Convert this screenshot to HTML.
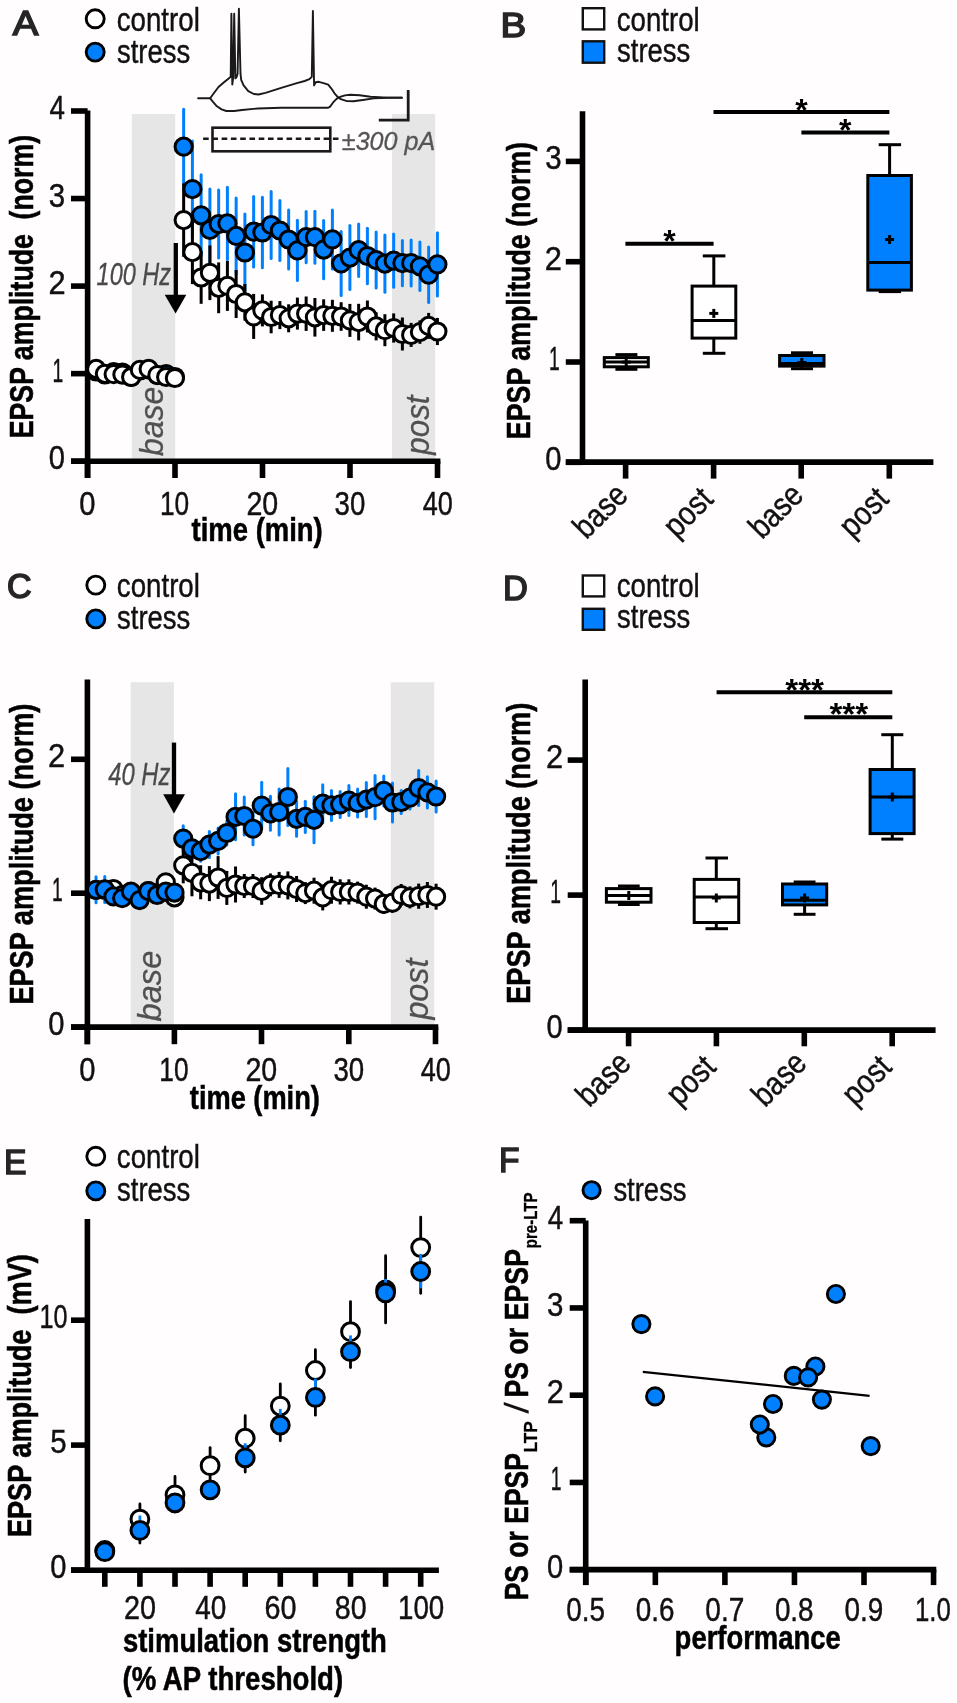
<!DOCTYPE html>
<html><head><meta charset="utf-8"><title>Figure</title>
<style>
html,body{margin:0;padding:0;background:#fffdfd;}
svg{display:block;font-family:"Liberation Sans",sans-serif;will-change:transform;}
</style></head>
<body>
<svg width="957" height="1703" viewBox="0 0 957 1703">
<text transform="translate(12.70,35.10) scale(1.0894,1)" font-size="35.2" fill="#262626" stroke="#262626" stroke-width="1.6" stroke-linejoin="miter">A</text>
<text transform="translate(500.62,37.30) scale(1.0939,1)" font-size="35.2" fill="#262626" stroke="#262626" stroke-width="1.6" stroke-linejoin="miter">B</text>
<text transform="translate(6.90,597.95) scale(0.9664,1)" font-size="35.2" fill="#262626" stroke="#262626" stroke-width="1.6" stroke-linejoin="miter">C</text>
<text transform="translate(502.94,600.10) scale(0.9788,1)" font-size="35.2" fill="#262626" stroke="#262626" stroke-width="1.6" stroke-linejoin="miter">D</text>
<text transform="translate(4.10,1174.10) scale(0.9591,1)" font-size="35.2" fill="#262626" stroke="#262626" stroke-width="1.6" stroke-linejoin="miter">E</text>
<text transform="translate(499.12,1172.10) scale(0.9508,1)" font-size="35.2" fill="#262626" stroke="#262626" stroke-width="1.6" stroke-linejoin="miter">F</text>
<circle cx="95.20" cy="18.80" r="9.0" fill="#fff" stroke="#000" stroke-width="2.9"/>
<circle cx="95.20" cy="52.10" r="9.0" fill="#0080ff" stroke="#000" stroke-width="2.9"/>
<text transform="translate(116.69,30.60) scale(0.8395,1)" font-size="33" font-weight="normal" font-style="normal" fill="#111" stroke="#111" stroke-width="0.45" xml:space="preserve">control</text>
<text transform="translate(116.98,63.00) scale(0.8322,1)" font-size="33" font-weight="normal" font-style="normal" fill="#111" stroke="#111" stroke-width="0.45" xml:space="preserve">stress</text>
<rect x="582.80" y="8.20" width="21.40" height="21.20" fill="#fff" stroke="#111" stroke-width="2.4"/>
<rect x="582.80" y="41.30" width="21.40" height="21.40" fill="#0080ff" stroke="#111" stroke-width="2.4"/>
<text transform="translate(616.79,30.60) scale(0.8374,1)" font-size="33" font-weight="normal" font-style="normal" fill="#111" stroke="#111" stroke-width="0.45" xml:space="preserve">control</text>
<text transform="translate(617.08,62.20) scale(0.8322,1)" font-size="33" font-weight="normal" font-style="normal" fill="#111" stroke="#111" stroke-width="0.45" xml:space="preserve">stress</text>
<circle cx="95.80" cy="585.10" r="9.0" fill="#fff" stroke="#000" stroke-width="2.9"/>
<circle cx="95.80" cy="618.90" r="9.0" fill="#0080ff" stroke="#000" stroke-width="2.9"/>
<text transform="translate(116.79,597.10) scale(0.8395,1)" font-size="33" font-weight="normal" font-style="normal" fill="#111" stroke="#111" stroke-width="0.45" xml:space="preserve">control</text>
<text transform="translate(117.08,629.00) scale(0.8322,1)" font-size="33" font-weight="normal" font-style="normal" fill="#111" stroke="#111" stroke-width="0.45" xml:space="preserve">stress</text>
<rect x="582.80" y="575.50" width="21.40" height="20.90" fill="#fff" stroke="#111" stroke-width="2.4"/>
<rect x="582.80" y="608.80" width="21.40" height="21.00" fill="#0080ff" stroke="#111" stroke-width="2.4"/>
<text transform="translate(616.79,597.10) scale(0.8374,1)" font-size="33" font-weight="normal" font-style="normal" fill="#111" stroke="#111" stroke-width="0.45" xml:space="preserve">control</text>
<text transform="translate(617.08,628.40) scale(0.8322,1)" font-size="33" font-weight="normal" font-style="normal" fill="#111" stroke="#111" stroke-width="0.45" xml:space="preserve">stress</text>
<circle cx="95.80" cy="1156.30" r="9.0" fill="#fff" stroke="#000" stroke-width="2.9"/>
<circle cx="95.80" cy="1190.90" r="9.0" fill="#0080ff" stroke="#000" stroke-width="2.9"/>
<text transform="translate(116.79,1168.10) scale(0.8395,1)" font-size="33" font-weight="normal" font-style="normal" fill="#111" stroke="#111" stroke-width="0.45" xml:space="preserve">control</text>
<text transform="translate(117.08,1201.00) scale(0.8322,1)" font-size="33" font-weight="normal" font-style="normal" fill="#111" stroke="#111" stroke-width="0.45" xml:space="preserve">stress</text>
<circle cx="591.60" cy="1190.20" r="8.6" fill="#0080ff" stroke="#000" stroke-width="2.9"/>
<text transform="translate(613.38,1201.00) scale(0.8322,1)" font-size="33" font-weight="normal" font-style="normal" fill="#111" stroke="#111" stroke-width="0.45" xml:space="preserve">stress</text>
<rect x="131.80" y="114.00" width="43.40" height="347.20" fill="#e6e6e6"/>
<rect x="392.00" y="114.00" width="43.20" height="347.20" fill="#e6e6e6"/>
<text transform="translate(163.20,455.98) rotate(-90) scale(0.9415,1)" font-size="34" font-weight="normal" font-style="italic" fill="#505050" stroke="#505050" stroke-width="0.3" xml:space="preserve">base</text>
<text transform="translate(428.80,454.72) rotate(-90) scale(0.9231,1)" font-size="34" font-weight="normal" font-style="italic" fill="#505050" stroke="#505050" stroke-width="0.3" xml:space="preserve">post</text>
<line x1="87.60" y1="110.60" x2="87.60" y2="478.00" stroke="#000" stroke-width="5.6" stroke-linecap="butt" />
<line x1="71.00" y1="461.20" x2="440.40" y2="461.20" stroke="#000" stroke-width="5.6" stroke-linecap="butt" />
<line x1="71.00" y1="461.20" x2="87.60" y2="461.20" stroke="#000" stroke-width="5.6" stroke-linecap="butt" />
<text transform="translate(48.83,469.20) scale(0.8838,1)" font-size="33" font-weight="normal" font-style="normal" fill="#111" stroke="#111" stroke-width="0.45" xml:space="preserve">0</text>
<line x1="71.00" y1="373.65" x2="87.60" y2="373.65" stroke="#000" stroke-width="5.6" stroke-linecap="butt" />
<text transform="translate(52.55,381.65) scale(0.5852,1)" font-size="33" font-weight="normal" font-style="normal" fill="#111" stroke="#111" stroke-width="0.45" xml:space="preserve">1</text>
<line x1="71.00" y1="286.10" x2="87.60" y2="286.10" stroke="#000" stroke-width="5.6" stroke-linecap="butt" />
<text transform="translate(48.46,294.10) scale(0.9324,1)" font-size="33" font-weight="normal" font-style="normal" fill="#111" stroke="#111" stroke-width="0.45" xml:space="preserve">2</text>
<line x1="71.00" y1="198.55" x2="87.60" y2="198.55" stroke="#000" stroke-width="5.6" stroke-linecap="butt" />
<text transform="translate(48.82,206.55) scale(0.8931,1)" font-size="33" font-weight="normal" font-style="normal" fill="#111" stroke="#111" stroke-width="0.45" xml:space="preserve">3</text>
<line x1="71.00" y1="111.00" x2="87.60" y2="111.00" stroke="#000" stroke-width="5.6" stroke-linecap="butt" />
<text transform="translate(49.45,119.00) scale(0.8401,1)" font-size="33" font-weight="normal" font-style="normal" fill="#111" stroke="#111" stroke-width="0.45" xml:space="preserve">4</text>
<line x1="87.50" y1="461.20" x2="87.50" y2="478.00" stroke="#000" stroke-width="5.6" stroke-linecap="butt" />
<text transform="translate(79.33,515.30) scale(0.8838,1)" font-size="33" font-weight="normal" font-style="normal" fill="#111" stroke="#111" stroke-width="0.45" xml:space="preserve">0</text>
<line x1="175.00" y1="461.20" x2="175.00" y2="478.00" stroke="#000" stroke-width="5.6" stroke-linecap="butt" />
<text transform="translate(159.88,515.30) scale(0.7970,1)" font-size="33" font-weight="normal" font-style="normal" fill="#111" stroke="#111" stroke-width="0.45" xml:space="preserve">10</text>
<line x1="262.50" y1="461.20" x2="262.50" y2="478.00" stroke="#000" stroke-width="5.6" stroke-linecap="butt" />
<text transform="translate(246.42,515.30) scale(0.8662,1)" font-size="33" font-weight="normal" font-style="normal" fill="#111" stroke="#111" stroke-width="0.45" xml:space="preserve">20</text>
<line x1="350.00" y1="461.20" x2="350.00" y2="478.00" stroke="#000" stroke-width="5.6" stroke-linecap="butt" />
<text transform="translate(334.59,515.30) scale(0.8374,1)" font-size="33" font-weight="normal" font-style="normal" fill="#111" stroke="#111" stroke-width="0.45" xml:space="preserve">30</text>
<line x1="437.50" y1="461.20" x2="437.50" y2="478.00" stroke="#000" stroke-width="5.6" stroke-linecap="butt" />
<text transform="translate(422.66,515.30) scale(0.8215,1)" font-size="33" font-weight="normal" font-style="normal" fill="#111" stroke="#111" stroke-width="0.45" xml:space="preserve">40</text>
<text transform="translate(191.53,541.30) scale(0.8203,1)" font-size="33.5" font-weight="bold" font-style="normal" fill="#000" stroke="#000" stroke-width="0.55" xml:space="preserve">time (min)</text>
<text transform="translate(32.80,438.23) rotate(-90) scale(0.7966,1)" font-size="33.5" font-weight="bold" font-style="normal" fill="#000" stroke="#000" stroke-width="0.55" xml:space="preserve">EPSP amplitude  (norm)</text>
<text transform="translate(96.61,285.00) scale(0.7710,1)" font-size="30.5" font-weight="normal" font-style="italic" fill="#4a4a4a" stroke="#4a4a4a" stroke-width="0.3" xml:space="preserve">100 Hz</text>
<line x1="175.80" y1="243.00" x2="175.80" y2="297.00" stroke="#000" stroke-width="4.3" stroke-linecap="butt" />
<polygon points="164.7,294.8 186.3,294.8 175.6,313.6" fill="#000"/>
<line x1="96.15" y1="366.50" x2="96.15" y2="376.50" stroke="#0080ff" stroke-width="3.0" stroke-linecap="round" />
<line x1="104.90" y1="369.50" x2="104.90" y2="379.50" stroke="#0080ff" stroke-width="3.0" stroke-linecap="round" />
<line x1="113.65" y1="367.00" x2="113.65" y2="377.00" stroke="#0080ff" stroke-width="3.0" stroke-linecap="round" />
<line x1="122.40" y1="367.50" x2="122.40" y2="377.50" stroke="#0080ff" stroke-width="3.0" stroke-linecap="round" />
<line x1="131.15" y1="372.00" x2="131.15" y2="382.00" stroke="#0080ff" stroke-width="3.0" stroke-linecap="round" />
<line x1="139.90" y1="365.50" x2="139.90" y2="375.50" stroke="#0080ff" stroke-width="3.0" stroke-linecap="round" />
<line x1="148.65" y1="364.50" x2="148.65" y2="374.50" stroke="#0080ff" stroke-width="3.0" stroke-linecap="round" />
<line x1="157.40" y1="370.00" x2="157.40" y2="380.00" stroke="#0080ff" stroke-width="3.0" stroke-linecap="round" />
<line x1="166.15" y1="369.00" x2="166.15" y2="379.00" stroke="#0080ff" stroke-width="3.0" stroke-linecap="round" />
<line x1="174.90" y1="372.00" x2="174.90" y2="382.00" stroke="#0080ff" stroke-width="3.0" stroke-linecap="round" />
<line x1="183.65" y1="109.20" x2="183.65" y2="184.20" stroke="#0080ff" stroke-width="3.0" stroke-linecap="round" />
<line x1="192.40" y1="141.10" x2="192.40" y2="237.10" stroke="#0080ff" stroke-width="3.0" stroke-linecap="round" />
<line x1="201.15" y1="174.80" x2="201.15" y2="255.80" stroke="#0080ff" stroke-width="3.0" stroke-linecap="round" />
<line x1="209.90" y1="188.90" x2="209.90" y2="270.90" stroke="#0080ff" stroke-width="3.0" stroke-linecap="round" />
<line x1="218.65" y1="190.10" x2="218.65" y2="258.10" stroke="#0080ff" stroke-width="3.0" stroke-linecap="round" />
<line x1="227.40" y1="187.20" x2="227.40" y2="259.60" stroke="#0080ff" stroke-width="3.0" stroke-linecap="round" />
<line x1="236.15" y1="197.90" x2="236.15" y2="273.90" stroke="#0080ff" stroke-width="3.0" stroke-linecap="round" />
<line x1="244.90" y1="213.90" x2="244.90" y2="291.10" stroke="#0080ff" stroke-width="3.0" stroke-linecap="round" />
<line x1="253.65" y1="196.50" x2="253.65" y2="266.90" stroke="#0080ff" stroke-width="3.0" stroke-linecap="round" />
<line x1="262.40" y1="197.30" x2="262.40" y2="267.70" stroke="#0080ff" stroke-width="3.0" stroke-linecap="round" />
<line x1="271.15" y1="191.50" x2="271.15" y2="258.50" stroke="#0080ff" stroke-width="3.0" stroke-linecap="round" />
<line x1="279.90" y1="200.50" x2="279.90" y2="260.50" stroke="#0080ff" stroke-width="3.0" stroke-linecap="round" />
<line x1="288.65" y1="210.00" x2="288.65" y2="269.00" stroke="#0080ff" stroke-width="3.0" stroke-linecap="round" />
<line x1="297.40" y1="220.20" x2="297.40" y2="280.60" stroke="#0080ff" stroke-width="3.0" stroke-linecap="round" />
<line x1="306.15" y1="211.60" x2="306.15" y2="262.80" stroke="#0080ff" stroke-width="3.0" stroke-linecap="round" />
<line x1="314.90" y1="211.20" x2="314.90" y2="263.20" stroke="#0080ff" stroke-width="3.0" stroke-linecap="round" />
<line x1="323.65" y1="220.40" x2="323.65" y2="278.80" stroke="#0080ff" stroke-width="3.0" stroke-linecap="round" />
<line x1="332.40" y1="209.90" x2="332.40" y2="268.90" stroke="#0080ff" stroke-width="3.0" stroke-linecap="round" />
<line x1="341.15" y1="231.40" x2="341.15" y2="295.40" stroke="#0080ff" stroke-width="3.0" stroke-linecap="round" />
<line x1="349.90" y1="225.60" x2="349.90" y2="289.60" stroke="#0080ff" stroke-width="3.0" stroke-linecap="round" />
<line x1="358.65" y1="223.90" x2="358.65" y2="276.50" stroke="#0080ff" stroke-width="3.0" stroke-linecap="round" />
<line x1="367.40" y1="228.30" x2="367.40" y2="283.70" stroke="#0080ff" stroke-width="3.0" stroke-linecap="round" />
<line x1="376.15" y1="232.10" x2="376.15" y2="288.10" stroke="#0080ff" stroke-width="3.0" stroke-linecap="round" />
<line x1="384.90" y1="234.90" x2="384.90" y2="292.30" stroke="#0080ff" stroke-width="3.0" stroke-linecap="round" />
<line x1="393.65" y1="234.10" x2="393.65" y2="287.30" stroke="#0080ff" stroke-width="3.0" stroke-linecap="round" />
<line x1="402.40" y1="240.50" x2="402.40" y2="285.70" stroke="#0080ff" stroke-width="3.0" stroke-linecap="round" />
<line x1="411.15" y1="240.10" x2="411.15" y2="286.10" stroke="#0080ff" stroke-width="3.0" stroke-linecap="round" />
<line x1="419.90" y1="242.10" x2="419.90" y2="290.50" stroke="#0080ff" stroke-width="3.0" stroke-linecap="round" />
<line x1="428.65" y1="247.00" x2="428.65" y2="302.40" stroke="#0080ff" stroke-width="3.0" stroke-linecap="round" />
<line x1="437.40" y1="232.70" x2="437.40" y2="296.10" stroke="#0080ff" stroke-width="3.0" stroke-linecap="round" />
<circle cx="96.15" cy="371.50" r="8.6" fill="#0080ff" stroke="#000" stroke-width="3.0"/>
<circle cx="104.90" cy="374.50" r="8.6" fill="#0080ff" stroke="#000" stroke-width="3.0"/>
<circle cx="113.65" cy="372.00" r="8.6" fill="#0080ff" stroke="#000" stroke-width="3.0"/>
<circle cx="122.40" cy="372.50" r="8.6" fill="#0080ff" stroke="#000" stroke-width="3.0"/>
<circle cx="131.15" cy="377.00" r="8.6" fill="#0080ff" stroke="#000" stroke-width="3.0"/>
<circle cx="139.90" cy="370.50" r="8.6" fill="#0080ff" stroke="#000" stroke-width="3.0"/>
<circle cx="148.65" cy="369.50" r="8.6" fill="#0080ff" stroke="#000" stroke-width="3.0"/>
<circle cx="157.40" cy="375.00" r="8.6" fill="#0080ff" stroke="#000" stroke-width="3.0"/>
<circle cx="166.15" cy="374.00" r="8.6" fill="#0080ff" stroke="#000" stroke-width="3.0"/>
<circle cx="174.90" cy="377.00" r="8.6" fill="#0080ff" stroke="#000" stroke-width="3.0"/>
<circle cx="183.65" cy="146.70" r="8.6" fill="#0080ff" stroke="#000" stroke-width="3.0"/>
<circle cx="192.40" cy="189.10" r="8.6" fill="#0080ff" stroke="#000" stroke-width="3.0"/>
<circle cx="201.15" cy="215.30" r="8.6" fill="#0080ff" stroke="#000" stroke-width="3.0"/>
<circle cx="209.90" cy="229.90" r="8.6" fill="#0080ff" stroke="#000" stroke-width="3.0"/>
<circle cx="218.65" cy="224.10" r="8.6" fill="#0080ff" stroke="#000" stroke-width="3.0"/>
<circle cx="227.40" cy="223.40" r="8.6" fill="#0080ff" stroke="#000" stroke-width="3.0"/>
<circle cx="236.15" cy="235.90" r="8.6" fill="#0080ff" stroke="#000" stroke-width="3.0"/>
<circle cx="244.90" cy="252.50" r="8.6" fill="#0080ff" stroke="#000" stroke-width="3.0"/>
<circle cx="253.65" cy="231.70" r="8.6" fill="#0080ff" stroke="#000" stroke-width="3.0"/>
<circle cx="262.40" cy="232.50" r="8.6" fill="#0080ff" stroke="#000" stroke-width="3.0"/>
<circle cx="271.15" cy="225.00" r="8.6" fill="#0080ff" stroke="#000" stroke-width="3.0"/>
<circle cx="279.90" cy="230.50" r="8.6" fill="#0080ff" stroke="#000" stroke-width="3.0"/>
<circle cx="288.65" cy="239.50" r="8.6" fill="#0080ff" stroke="#000" stroke-width="3.0"/>
<circle cx="297.40" cy="250.40" r="8.6" fill="#0080ff" stroke="#000" stroke-width="3.0"/>
<circle cx="306.15" cy="237.20" r="8.6" fill="#0080ff" stroke="#000" stroke-width="3.0"/>
<circle cx="314.90" cy="237.20" r="8.6" fill="#0080ff" stroke="#000" stroke-width="3.0"/>
<circle cx="323.65" cy="249.60" r="8.6" fill="#0080ff" stroke="#000" stroke-width="3.0"/>
<circle cx="332.40" cy="239.40" r="8.6" fill="#0080ff" stroke="#000" stroke-width="3.0"/>
<circle cx="341.15" cy="263.40" r="8.6" fill="#0080ff" stroke="#000" stroke-width="3.0"/>
<circle cx="349.90" cy="257.60" r="8.6" fill="#0080ff" stroke="#000" stroke-width="3.0"/>
<circle cx="358.65" cy="250.20" r="8.6" fill="#0080ff" stroke="#000" stroke-width="3.0"/>
<circle cx="367.40" cy="256.00" r="8.6" fill="#0080ff" stroke="#000" stroke-width="3.0"/>
<circle cx="376.15" cy="260.10" r="8.6" fill="#0080ff" stroke="#000" stroke-width="3.0"/>
<circle cx="384.90" cy="263.60" r="8.6" fill="#0080ff" stroke="#000" stroke-width="3.0"/>
<circle cx="393.65" cy="260.70" r="8.6" fill="#0080ff" stroke="#000" stroke-width="3.0"/>
<circle cx="402.40" cy="263.10" r="8.6" fill="#0080ff" stroke="#000" stroke-width="3.0"/>
<circle cx="411.15" cy="263.10" r="8.6" fill="#0080ff" stroke="#000" stroke-width="3.0"/>
<circle cx="419.90" cy="266.30" r="8.6" fill="#0080ff" stroke="#000" stroke-width="3.0"/>
<circle cx="428.65" cy="274.70" r="8.6" fill="#0080ff" stroke="#000" stroke-width="3.0"/>
<circle cx="437.40" cy="264.40" r="8.6" fill="#0080ff" stroke="#000" stroke-width="3.0"/>
<line x1="96.15" y1="364.90" x2="96.15" y2="372.90" stroke="#000" stroke-width="3.0" stroke-linecap="butt" />
<line x1="104.90" y1="369.80" x2="104.90" y2="377.80" stroke="#000" stroke-width="3.0" stroke-linecap="butt" />
<line x1="113.65" y1="370.20" x2="113.65" y2="378.20" stroke="#000" stroke-width="3.0" stroke-linecap="butt" />
<line x1="122.40" y1="370.60" x2="122.40" y2="378.60" stroke="#000" stroke-width="3.0" stroke-linecap="butt" />
<line x1="131.15" y1="373.00" x2="131.15" y2="381.00" stroke="#000" stroke-width="3.0" stroke-linecap="butt" />
<line x1="139.90" y1="365.90" x2="139.90" y2="373.90" stroke="#000" stroke-width="3.0" stroke-linecap="butt" />
<line x1="148.65" y1="364.90" x2="148.65" y2="372.90" stroke="#000" stroke-width="3.0" stroke-linecap="butt" />
<line x1="157.40" y1="371.10" x2="157.40" y2="379.10" stroke="#000" stroke-width="3.0" stroke-linecap="butt" />
<line x1="166.15" y1="373.00" x2="166.15" y2="381.00" stroke="#000" stroke-width="3.0" stroke-linecap="butt" />
<line x1="174.90" y1="374.00" x2="174.90" y2="382.00" stroke="#000" stroke-width="3.0" stroke-linecap="butt" />
<line x1="183.65" y1="183.40" x2="183.65" y2="256.80" stroke="#000" stroke-width="3.0" stroke-linecap="butt" />
<line x1="192.40" y1="220.10" x2="192.40" y2="284.10" stroke="#000" stroke-width="3.0" stroke-linecap="butt" />
<line x1="201.15" y1="251.20" x2="201.15" y2="303.80" stroke="#000" stroke-width="3.0" stroke-linecap="butt" />
<line x1="209.90" y1="245.50" x2="209.90" y2="300.10" stroke="#000" stroke-width="3.0" stroke-linecap="butt" />
<line x1="218.65" y1="262.40" x2="218.65" y2="313.20" stroke="#000" stroke-width="3.0" stroke-linecap="butt" />
<line x1="227.40" y1="260.90" x2="227.40" y2="310.90" stroke="#000" stroke-width="3.0" stroke-linecap="butt" />
<line x1="236.15" y1="270.00" x2="236.15" y2="318.00" stroke="#000" stroke-width="3.0" stroke-linecap="butt" />
<line x1="244.90" y1="284.00" x2="244.90" y2="320.60" stroke="#000" stroke-width="3.0" stroke-linecap="butt" />
<line x1="253.65" y1="293.90" x2="253.65" y2="338.90" stroke="#000" stroke-width="3.0" stroke-linecap="butt" />
<line x1="262.40" y1="294.40" x2="262.40" y2="326.40" stroke="#000" stroke-width="3.0" stroke-linecap="butt" />
<line x1="271.15" y1="300.70" x2="271.15" y2="333.30" stroke="#000" stroke-width="3.0" stroke-linecap="butt" />
<line x1="279.90" y1="301.10" x2="279.90" y2="329.10" stroke="#000" stroke-width="3.0" stroke-linecap="butt" />
<line x1="288.65" y1="304.30" x2="288.65" y2="332.30" stroke="#000" stroke-width="3.0" stroke-linecap="butt" />
<line x1="297.40" y1="297.60" x2="297.40" y2="329.60" stroke="#000" stroke-width="3.0" stroke-linecap="butt" />
<line x1="306.15" y1="296.50" x2="306.15" y2="330.90" stroke="#000" stroke-width="3.0" stroke-linecap="butt" />
<line x1="314.90" y1="298.00" x2="314.90" y2="336.60" stroke="#000" stroke-width="3.0" stroke-linecap="butt" />
<line x1="323.65" y1="299.30" x2="323.65" y2="330.90" stroke="#000" stroke-width="3.0" stroke-linecap="butt" />
<line x1="332.40" y1="299.80" x2="332.40" y2="331.80" stroke="#000" stroke-width="3.0" stroke-linecap="butt" />
<line x1="341.15" y1="302.20" x2="341.15" y2="330.80" stroke="#000" stroke-width="3.0" stroke-linecap="butt" />
<line x1="349.90" y1="303.90" x2="349.90" y2="336.90" stroke="#000" stroke-width="3.0" stroke-linecap="butt" />
<line x1="358.65" y1="303.80" x2="358.65" y2="340.40" stroke="#000" stroke-width="3.0" stroke-linecap="butt" />
<line x1="367.40" y1="300.50" x2="367.40" y2="332.50" stroke="#000" stroke-width="3.0" stroke-linecap="butt" />
<line x1="376.15" y1="312.40" x2="376.15" y2="340.40" stroke="#000" stroke-width="3.0" stroke-linecap="butt" />
<line x1="384.90" y1="314.20" x2="384.90" y2="346.20" stroke="#000" stroke-width="3.0" stroke-linecap="butt" />
<line x1="393.65" y1="313.40" x2="393.65" y2="342.60" stroke="#000" stroke-width="3.0" stroke-linecap="butt" />
<line x1="402.40" y1="317.50" x2="402.40" y2="350.50" stroke="#000" stroke-width="3.0" stroke-linecap="butt" />
<line x1="411.15" y1="322.90" x2="411.15" y2="346.90" stroke="#000" stroke-width="3.0" stroke-linecap="butt" />
<line x1="419.90" y1="320.40" x2="419.90" y2="343.80" stroke="#000" stroke-width="3.0" stroke-linecap="butt" />
<line x1="428.65" y1="312.90" x2="428.65" y2="338.90" stroke="#000" stroke-width="3.0" stroke-linecap="butt" />
<line x1="437.40" y1="317.90" x2="437.40" y2="345.10" stroke="#000" stroke-width="3.0" stroke-linecap="butt" />
<circle cx="96.15" cy="368.90" r="8.6" fill="#fff" stroke="#000" stroke-width="3.0"/>
<circle cx="104.90" cy="373.80" r="8.6" fill="#fff" stroke="#000" stroke-width="3.0"/>
<circle cx="113.65" cy="374.20" r="8.6" fill="#fff" stroke="#000" stroke-width="3.0"/>
<circle cx="122.40" cy="374.60" r="8.6" fill="#fff" stroke="#000" stroke-width="3.0"/>
<circle cx="131.15" cy="377.00" r="8.6" fill="#fff" stroke="#000" stroke-width="3.0"/>
<circle cx="139.90" cy="369.90" r="8.6" fill="#fff" stroke="#000" stroke-width="3.0"/>
<circle cx="148.65" cy="368.90" r="8.6" fill="#fff" stroke="#000" stroke-width="3.0"/>
<circle cx="157.40" cy="375.10" r="8.6" fill="#fff" stroke="#000" stroke-width="3.0"/>
<circle cx="166.15" cy="377.00" r="8.6" fill="#fff" stroke="#000" stroke-width="3.0"/>
<circle cx="174.90" cy="378.00" r="8.6" fill="#fff" stroke="#000" stroke-width="3.0"/>
<circle cx="183.65" cy="220.10" r="8.6" fill="#fff" stroke="#000" stroke-width="3.0"/>
<circle cx="192.40" cy="252.10" r="8.6" fill="#fff" stroke="#000" stroke-width="3.0"/>
<circle cx="201.15" cy="277.50" r="8.6" fill="#fff" stroke="#000" stroke-width="3.0"/>
<circle cx="209.90" cy="272.80" r="8.6" fill="#fff" stroke="#000" stroke-width="3.0"/>
<circle cx="218.65" cy="287.80" r="8.6" fill="#fff" stroke="#000" stroke-width="3.0"/>
<circle cx="227.40" cy="285.90" r="8.6" fill="#fff" stroke="#000" stroke-width="3.0"/>
<circle cx="236.15" cy="294.00" r="8.6" fill="#fff" stroke="#000" stroke-width="3.0"/>
<circle cx="244.90" cy="302.30" r="8.6" fill="#fff" stroke="#000" stroke-width="3.0"/>
<circle cx="253.65" cy="316.40" r="8.6" fill="#fff" stroke="#000" stroke-width="3.0"/>
<circle cx="262.40" cy="310.40" r="8.6" fill="#fff" stroke="#000" stroke-width="3.0"/>
<circle cx="271.15" cy="317.00" r="8.6" fill="#fff" stroke="#000" stroke-width="3.0"/>
<circle cx="279.90" cy="315.10" r="8.6" fill="#fff" stroke="#000" stroke-width="3.0"/>
<circle cx="288.65" cy="318.30" r="8.6" fill="#fff" stroke="#000" stroke-width="3.0"/>
<circle cx="297.40" cy="313.60" r="8.6" fill="#fff" stroke="#000" stroke-width="3.0"/>
<circle cx="306.15" cy="313.70" r="8.6" fill="#fff" stroke="#000" stroke-width="3.0"/>
<circle cx="314.90" cy="317.30" r="8.6" fill="#fff" stroke="#000" stroke-width="3.0"/>
<circle cx="323.65" cy="315.10" r="8.6" fill="#fff" stroke="#000" stroke-width="3.0"/>
<circle cx="332.40" cy="315.80" r="8.6" fill="#fff" stroke="#000" stroke-width="3.0"/>
<circle cx="341.15" cy="316.50" r="8.6" fill="#fff" stroke="#000" stroke-width="3.0"/>
<circle cx="349.90" cy="320.40" r="8.6" fill="#fff" stroke="#000" stroke-width="3.0"/>
<circle cx="358.65" cy="322.10" r="8.6" fill="#fff" stroke="#000" stroke-width="3.0"/>
<circle cx="367.40" cy="316.50" r="8.6" fill="#fff" stroke="#000" stroke-width="3.0"/>
<circle cx="376.15" cy="326.40" r="8.6" fill="#fff" stroke="#000" stroke-width="3.0"/>
<circle cx="384.90" cy="330.20" r="8.6" fill="#fff" stroke="#000" stroke-width="3.0"/>
<circle cx="393.65" cy="328.00" r="8.6" fill="#fff" stroke="#000" stroke-width="3.0"/>
<circle cx="402.40" cy="334.00" r="8.6" fill="#fff" stroke="#000" stroke-width="3.0"/>
<circle cx="411.15" cy="334.90" r="8.6" fill="#fff" stroke="#000" stroke-width="3.0"/>
<circle cx="419.90" cy="332.10" r="8.6" fill="#fff" stroke="#000" stroke-width="3.0"/>
<circle cx="428.65" cy="325.90" r="8.6" fill="#fff" stroke="#000" stroke-width="3.0"/>
<circle cx="437.40" cy="331.50" r="8.6" fill="#fff" stroke="#000" stroke-width="3.0"/>
<path d="M198.1,98.3 L210.2,98.3 L213.8,93.3 L218.5,87.0 L224.0,82.3 L228.7,78.4 L230.7,76.8 L231.4,13.8 L232.3,84.6 L233.2,77.6 L234.2,13.8 L235.4,78.4 L236.7,76.8 L237.6,73.7 L238.9,8.6 L240.5,73.7 L241.2,79.9 L243.6,85.4 L248.3,91.2 L253.8,94.0 L258.5,94.5 L265.5,92.8 L281.2,87.8 L296.9,83.1 L304.7,81.0 L309.4,79.2 L311.8,76.8 L312.9,11.0 L314.1,85.4 L315.7,82.3 L318.8,81.8 L323.5,83.1 L328.2,84.6 L331.4,88.6 L334.5,93.3 L337.6,96.9 L340.8,99.1 L347.0,101.1 L353.3,101.2 L362.7,100.0 L373.7,98.4 L387.8,97.8 L401.9,97.6" fill="none" stroke="#1a1a1a" stroke-width="1.9" stroke-linejoin="round" stroke-linecap="round"/>
<path d="M210.2,98.3 L213.0,101.9 L216.9,106.3 L221.6,109.4 L226.3,111.0 L234.2,111.0 L242.0,110.0 L257.7,108.5 L281.2,107.8 L312.6,107.8 L328.2,107.8 L330.1,106.6 L332.9,102.7 L336.8,98.7 L340.8,96.6 L345.0,95.4 L350.2,94.8 L359.6,95.3 L370.5,96.8 L387.8,97.6 L401.9,97.8" fill="none" stroke="#1a1a1a" stroke-width="1.9" stroke-linejoin="round" stroke-linecap="round"/>
<path d="M408.2,90.1 L408.2,120.2 L378.8,120.2" fill="none" stroke="#1a1a1a" stroke-width="2.8" stroke-linejoin="miter"/>
<line x1="203.10" y1="138.80" x2="338.50" y2="138.80" stroke="#1a1a1a" stroke-width="2.6" stroke-linecap="butt" stroke-dasharray="5.6 3.67"/>
<rect x="212.50" y="127.70" width="117.80" height="23.60" fill="none" stroke="#1a1a1a" stroke-width="2.6"/>
<text transform="translate(341.85,149.70) scale(0.9671,1)" font-size="26" font-weight="normal" font-style="italic" fill="#555" stroke="#555" stroke-width="0.3" xml:space="preserve">±300 pA</text>
<line x1="582.50" y1="111.30" x2="582.50" y2="465.10" stroke="#000" stroke-width="5.6" stroke-linecap="butt" />
<line x1="565.80" y1="462.10" x2="933.40" y2="462.10" stroke="#000" stroke-width="5.6" stroke-linecap="butt" />
<line x1="565.80" y1="462.30" x2="582.50" y2="462.30" stroke="#000" stroke-width="5.6" stroke-linecap="butt" />
<text transform="translate(545.23,470.30) scale(0.8838,1)" font-size="33" font-weight="normal" font-style="normal" fill="#111" stroke="#111" stroke-width="0.45" xml:space="preserve">0</text>
<line x1="565.80" y1="362.00" x2="582.50" y2="362.00" stroke="#000" stroke-width="5.6" stroke-linecap="butt" />
<text transform="translate(548.95,370.00) scale(0.5852,1)" font-size="33" font-weight="normal" font-style="normal" fill="#111" stroke="#111" stroke-width="0.45" xml:space="preserve">1</text>
<line x1="565.80" y1="261.70" x2="582.50" y2="261.70" stroke="#000" stroke-width="5.6" stroke-linecap="butt" />
<text transform="translate(544.86,269.70) scale(0.9324,1)" font-size="33" font-weight="normal" font-style="normal" fill="#111" stroke="#111" stroke-width="0.45" xml:space="preserve">2</text>
<line x1="565.80" y1="161.40" x2="582.50" y2="161.40" stroke="#000" stroke-width="5.6" stroke-linecap="butt" />
<text transform="translate(545.22,169.40) scale(0.8931,1)" font-size="33" font-weight="normal" font-style="normal" fill="#111" stroke="#111" stroke-width="0.45" xml:space="preserve">3</text>
<line x1="625.60" y1="462.10" x2="625.60" y2="478.60" stroke="#000" stroke-width="5.6" stroke-linecap="butt" />
<line x1="713.60" y1="462.10" x2="713.60" y2="478.60" stroke="#000" stroke-width="5.6" stroke-linecap="butt" />
<line x1="801.20" y1="462.10" x2="801.20" y2="478.60" stroke="#000" stroke-width="5.6" stroke-linecap="butt" />
<line x1="889.30" y1="462.10" x2="889.30" y2="478.60" stroke="#000" stroke-width="5.6" stroke-linecap="butt" />
<text transform="translate(530.00,439.24) rotate(-90) scale(0.8001,1)" font-size="33.5" font-weight="bold" font-style="normal" fill="#000" stroke="#000" stroke-width="0.55" xml:space="preserve">EPSP amplitude (norm)</text>
<text transform="translate(628.60,498.00) rotate(-45) scale(0.8553,1) translate(-69.96,0)" font-size="33" fill="#111" stroke="#111" stroke-width="0.45">base</text>
<text transform="translate(714.60,501.00) rotate(-45) scale(0.8682,1) translate(-62.04,0)" font-size="33" fill="#111" stroke="#111" stroke-width="0.45">post</text>
<text transform="translate(804.20,498.00) rotate(-45) scale(0.8553,1) translate(-69.96,0)" font-size="33" fill="#111" stroke="#111" stroke-width="0.45">base</text>
<text transform="translate(890.30,501.00) rotate(-45) scale(0.8682,1) translate(-62.04,0)" font-size="33" fill="#111" stroke="#111" stroke-width="0.45">post</text>
<line x1="626.20" y1="354.60" x2="626.20" y2="369.30" stroke="#000" stroke-width="3.0" stroke-linecap="butt" />
<line x1="615.40" y1="354.60" x2="637.40" y2="354.60" stroke="#000" stroke-width="3.0" stroke-linecap="butt" />
<line x1="615.40" y1="369.30" x2="637.40" y2="369.30" stroke="#000" stroke-width="3.0" stroke-linecap="butt" />
<rect x="604.30" y="357.60" width="44.00" height="9.20" fill="#fff" stroke="#000" stroke-width="3.0"/>
<line x1="604.30" y1="362.10" x2="648.30" y2="362.10" stroke="#000" stroke-width="3.0" stroke-linecap="butt" />
<line x1="621.70" y1="362.10" x2="630.70" y2="362.10" stroke="#000" stroke-width="3.0" stroke-linecap="butt" />
<line x1="626.20" y1="357.60" x2="626.20" y2="366.60" stroke="#000" stroke-width="3.0" stroke-linecap="butt" />
<line x1="713.80" y1="255.90" x2="713.80" y2="353.30" stroke="#000" stroke-width="3.0" stroke-linecap="butt" />
<line x1="702.80" y1="255.90" x2="725.40" y2="255.90" stroke="#000" stroke-width="3.0" stroke-linecap="butt" />
<line x1="702.80" y1="353.30" x2="725.40" y2="353.30" stroke="#000" stroke-width="3.0" stroke-linecap="butt" />
<rect x="692.10" y="286.10" width="43.70" height="52.00" fill="#fff" stroke="#000" stroke-width="3.0"/>
<line x1="692.10" y1="320.40" x2="735.80" y2="320.40" stroke="#000" stroke-width="3.0" stroke-linecap="butt" />
<line x1="709.30" y1="313.40" x2="718.30" y2="313.40" stroke="#000" stroke-width="3.0" stroke-linecap="butt" />
<line x1="713.80" y1="308.90" x2="713.80" y2="317.90" stroke="#000" stroke-width="3.0" stroke-linecap="butt" />
<line x1="801.80" y1="352.80" x2="801.80" y2="368.70" stroke="#000" stroke-width="3.0" stroke-linecap="butt" />
<line x1="791.00" y1="352.80" x2="813.00" y2="352.80" stroke="#000" stroke-width="3.0" stroke-linecap="butt" />
<line x1="791.00" y1="368.70" x2="813.00" y2="368.70" stroke="#000" stroke-width="3.0" stroke-linecap="butt" />
<rect x="779.60" y="355.50" width="44.40" height="10.60" fill="#0080ff" stroke="#000" stroke-width="3.0"/>
<line x1="779.60" y1="363.50" x2="824.00" y2="363.50" stroke="#000" stroke-width="3.0" stroke-linecap="butt" />
<line x1="797.30" y1="362.50" x2="806.30" y2="362.50" stroke="#000" stroke-width="3.0" stroke-linecap="butt" />
<line x1="801.80" y1="358.00" x2="801.80" y2="367.00" stroke="#000" stroke-width="3.0" stroke-linecap="butt" />
<line x1="889.60" y1="144.70" x2="889.60" y2="291.60" stroke="#000" stroke-width="3.0" stroke-linecap="butt" />
<line x1="878.70" y1="144.70" x2="901.10" y2="144.70" stroke="#000" stroke-width="3.0" stroke-linecap="butt" />
<line x1="878.70" y1="291.60" x2="901.10" y2="291.60" stroke="#000" stroke-width="3.0" stroke-linecap="butt" />
<rect x="867.80" y="175.50" width="43.60" height="114.60" fill="#0080ff" stroke="#000" stroke-width="3.0"/>
<line x1="867.80" y1="262.40" x2="911.40" y2="262.40" stroke="#000" stroke-width="3.0" stroke-linecap="butt" />
<line x1="885.10" y1="239.50" x2="894.10" y2="239.50" stroke="#000" stroke-width="3.0" stroke-linecap="butt" />
<line x1="889.60" y1="235.00" x2="889.60" y2="244.00" stroke="#000" stroke-width="3.0" stroke-linecap="butt" />
<line x1="625.40" y1="243.70" x2="713.60" y2="243.70" stroke="#000" stroke-width="3.9" stroke-linecap="butt" />
<text transform="translate(663.16,251.66) scale(1.0000,1)" font-size="32" font-weight="bold" fill="#000">*</text>
<line x1="713.50" y1="112.00" x2="889.40" y2="112.00" stroke="#000" stroke-width="3.9" stroke-linecap="butt" />
<text transform="translate(795.36,120.96) scale(1.0000,1)" font-size="32" font-weight="bold" fill="#000">*</text>
<line x1="801.40" y1="132.50" x2="889.40" y2="132.50" stroke="#000" stroke-width="3.9" stroke-linecap="butt" />
<text transform="translate(838.96,141.26) scale(1.0000,1)" font-size="32" font-weight="bold" fill="#000">*</text>
<rect x="130.60" y="682.20" width="43.30" height="344.90" fill="#e6e6e6"/>
<rect x="390.80" y="682.20" width="43.40" height="344.90" fill="#e6e6e6"/>
<text transform="translate(160.50,1021.39) rotate(-90) scale(0.9595,1)" font-size="34" font-weight="normal" font-style="italic" fill="#505050" stroke="#505050" stroke-width="0.3" xml:space="preserve">base</text>
<text transform="translate(427.60,1019.59) rotate(-90) scale(0.9502,1)" font-size="34" font-weight="normal" font-style="italic" fill="#505050" stroke="#505050" stroke-width="0.3" xml:space="preserve">post</text>
<line x1="87.40" y1="679.60" x2="87.40" y2="1044.20" stroke="#000" stroke-width="5.6" stroke-linecap="butt" />
<line x1="71.00" y1="1027.10" x2="438.30" y2="1027.10" stroke="#000" stroke-width="5.6" stroke-linecap="butt" />
<line x1="71.00" y1="1027.10" x2="87.40" y2="1027.10" stroke="#000" stroke-width="5.6" stroke-linecap="butt" />
<text transform="translate(48.33,1035.10) scale(0.8838,1)" font-size="33" font-weight="normal" font-style="normal" fill="#111" stroke="#111" stroke-width="0.45" xml:space="preserve">0</text>
<line x1="71.00" y1="893.20" x2="87.40" y2="893.20" stroke="#000" stroke-width="5.6" stroke-linecap="butt" />
<text transform="translate(52.05,901.20) scale(0.5852,1)" font-size="33" font-weight="normal" font-style="normal" fill="#111" stroke="#111" stroke-width="0.45" xml:space="preserve">1</text>
<line x1="71.00" y1="759.30" x2="87.40" y2="759.30" stroke="#000" stroke-width="5.6" stroke-linecap="butt" />
<text transform="translate(47.96,767.30) scale(0.9324,1)" font-size="33" font-weight="normal" font-style="normal" fill="#111" stroke="#111" stroke-width="0.45" xml:space="preserve">2</text>
<line x1="87.30" y1="1027.10" x2="87.30" y2="1044.20" stroke="#000" stroke-width="5.6" stroke-linecap="butt" />
<text transform="translate(79.13,1080.50) scale(0.8838,1)" font-size="33" font-weight="normal" font-style="normal" fill="#111" stroke="#111" stroke-width="0.45" xml:space="preserve">0</text>
<line x1="174.40" y1="1027.10" x2="174.40" y2="1044.20" stroke="#000" stroke-width="5.6" stroke-linecap="butt" />
<text transform="translate(159.28,1080.50) scale(0.7970,1)" font-size="33" font-weight="normal" font-style="normal" fill="#111" stroke="#111" stroke-width="0.45" xml:space="preserve">10</text>
<line x1="261.50" y1="1027.10" x2="261.50" y2="1044.20" stroke="#000" stroke-width="5.6" stroke-linecap="butt" />
<text transform="translate(245.42,1080.50) scale(0.8662,1)" font-size="33" font-weight="normal" font-style="normal" fill="#111" stroke="#111" stroke-width="0.45" xml:space="preserve">20</text>
<line x1="348.80" y1="1027.10" x2="348.80" y2="1044.20" stroke="#000" stroke-width="5.6" stroke-linecap="butt" />
<text transform="translate(333.39,1080.50) scale(0.8374,1)" font-size="33" font-weight="normal" font-style="normal" fill="#111" stroke="#111" stroke-width="0.45" xml:space="preserve">30</text>
<line x1="435.50" y1="1027.10" x2="435.50" y2="1044.20" stroke="#000" stroke-width="5.6" stroke-linecap="butt" />
<text transform="translate(420.66,1080.50) scale(0.8215,1)" font-size="33" font-weight="normal" font-style="normal" fill="#111" stroke="#111" stroke-width="0.45" xml:space="preserve">40</text>
<text transform="translate(189.83,1108.50) scale(0.8127,1)" font-size="33.5" font-weight="bold" font-style="normal" fill="#000" stroke="#000" stroke-width="0.55" xml:space="preserve">time (min)</text>
<text transform="translate(32.60,1004.56) rotate(-90) scale(0.8102,1)" font-size="33.5" font-weight="bold" font-style="normal" fill="#000" stroke="#000" stroke-width="0.55" xml:space="preserve">EPSP amplitude (norm)</text>
<text transform="translate(108.18,784.90) scale(0.7811,1)" font-size="30.5" font-weight="normal" font-style="italic" fill="#4a4a4a" stroke="#4a4a4a" stroke-width="0.3" xml:space="preserve">40 Hz</text>
<line x1="174.00" y1="742.60" x2="174.00" y2="796.00" stroke="#000" stroke-width="4.3" stroke-linecap="butt" />
<polygon points="163.2,794.2 185,794.2 174,813.6" fill="#000"/>
<circle cx="96.02" cy="890.00" r="8.6" fill="#fff" stroke="#000" stroke-width="3.0"/>
<circle cx="104.74" cy="890.00" r="8.6" fill="#fff" stroke="#000" stroke-width="3.0"/>
<circle cx="113.46" cy="889.00" r="8.6" fill="#fff" stroke="#000" stroke-width="3.0"/>
<circle cx="122.18" cy="895.00" r="8.6" fill="#fff" stroke="#000" stroke-width="3.0"/>
<circle cx="130.90" cy="892.00" r="8.6" fill="#fff" stroke="#000" stroke-width="3.0"/>
<circle cx="139.62" cy="897.00" r="8.6" fill="#fff" stroke="#000" stroke-width="3.0"/>
<circle cx="148.34" cy="891.00" r="8.6" fill="#fff" stroke="#000" stroke-width="3.0"/>
<circle cx="157.06" cy="893.00" r="8.6" fill="#fff" stroke="#000" stroke-width="3.0"/>
<circle cx="165.78" cy="882.30" r="8.6" fill="#fff" stroke="#000" stroke-width="3.0"/>
<circle cx="174.50" cy="897.30" r="8.6" fill="#fff" stroke="#000" stroke-width="3.0"/>
<line x1="96.02" y1="876.80" x2="96.02" y2="902.80" stroke="#0080ff" stroke-width="3.0" stroke-linecap="round" />
<line x1="104.74" y1="876.40" x2="104.74" y2="902.40" stroke="#0080ff" stroke-width="3.0" stroke-linecap="round" />
<line x1="113.46" y1="890.40" x2="113.46" y2="902.40" stroke="#0080ff" stroke-width="3.0" stroke-linecap="round" />
<line x1="122.18" y1="892.20" x2="122.18" y2="904.20" stroke="#0080ff" stroke-width="3.0" stroke-linecap="round" />
<line x1="130.90" y1="885.70" x2="130.90" y2="897.70" stroke="#0080ff" stroke-width="3.0" stroke-linecap="round" />
<line x1="139.62" y1="894.10" x2="139.62" y2="906.10" stroke="#0080ff" stroke-width="3.0" stroke-linecap="round" />
<line x1="148.34" y1="885.10" x2="148.34" y2="897.10" stroke="#0080ff" stroke-width="3.0" stroke-linecap="round" />
<line x1="157.06" y1="889.00" x2="157.06" y2="901.00" stroke="#0080ff" stroke-width="3.0" stroke-linecap="round" />
<line x1="165.78" y1="885.70" x2="165.78" y2="897.70" stroke="#0080ff" stroke-width="3.0" stroke-linecap="round" />
<line x1="174.50" y1="886.60" x2="174.50" y2="898.60" stroke="#0080ff" stroke-width="3.0" stroke-linecap="round" />
<line x1="183.22" y1="825.80" x2="183.22" y2="851.40" stroke="#0080ff" stroke-width="3.0" stroke-linecap="round" />
<line x1="191.94" y1="838.40" x2="191.94" y2="858.40" stroke="#0080ff" stroke-width="3.0" stroke-linecap="round" />
<line x1="200.66" y1="841.20" x2="200.66" y2="861.20" stroke="#0080ff" stroke-width="3.0" stroke-linecap="round" />
<line x1="209.38" y1="831.60" x2="209.38" y2="857.60" stroke="#0080ff" stroke-width="3.0" stroke-linecap="round" />
<line x1="218.10" y1="827.90" x2="218.10" y2="853.90" stroke="#0080ff" stroke-width="3.0" stroke-linecap="round" />
<line x1="226.82" y1="821.00" x2="226.82" y2="845.00" stroke="#0080ff" stroke-width="3.0" stroke-linecap="round" />
<line x1="235.54" y1="793.80" x2="235.54" y2="839.80" stroke="#0080ff" stroke-width="3.0" stroke-linecap="round" />
<line x1="244.26" y1="797.00" x2="244.26" y2="835.00" stroke="#0080ff" stroke-width="3.0" stroke-linecap="round" />
<line x1="252.98" y1="812.70" x2="252.98" y2="844.70" stroke="#0080ff" stroke-width="3.0" stroke-linecap="round" />
<line x1="261.70" y1="782.30" x2="261.70" y2="828.90" stroke="#0080ff" stroke-width="3.0" stroke-linecap="round" />
<line x1="270.42" y1="796.30" x2="270.42" y2="830.30" stroke="#0080ff" stroke-width="3.0" stroke-linecap="round" />
<line x1="279.14" y1="789.10" x2="279.14" y2="835.10" stroke="#0080ff" stroke-width="3.0" stroke-linecap="round" />
<line x1="287.86" y1="768.40" x2="287.86" y2="825.60" stroke="#0080ff" stroke-width="3.0" stroke-linecap="round" />
<line x1="296.58" y1="801.40" x2="296.58" y2="836.20" stroke="#0080ff" stroke-width="3.0" stroke-linecap="round" />
<line x1="305.30" y1="801.30" x2="305.30" y2="832.50" stroke="#0080ff" stroke-width="3.0" stroke-linecap="round" />
<line x1="314.02" y1="796.80" x2="314.02" y2="842.80" stroke="#0080ff" stroke-width="3.0" stroke-linecap="round" />
<line x1="322.74" y1="784.70" x2="322.74" y2="822.70" stroke="#0080ff" stroke-width="3.0" stroke-linecap="round" />
<line x1="331.46" y1="790.40" x2="331.46" y2="820.40" stroke="#0080ff" stroke-width="3.0" stroke-linecap="round" />
<line x1="340.18" y1="791.40" x2="340.18" y2="817.40" stroke="#0080ff" stroke-width="3.0" stroke-linecap="round" />
<line x1="348.90" y1="785.60" x2="348.90" y2="815.60" stroke="#0080ff" stroke-width="3.0" stroke-linecap="round" />
<line x1="357.62" y1="789.00" x2="357.62" y2="817.00" stroke="#0080ff" stroke-width="3.0" stroke-linecap="round" />
<line x1="366.34" y1="782.60" x2="366.34" y2="816.60" stroke="#0080ff" stroke-width="3.0" stroke-linecap="round" />
<line x1="375.06" y1="775.60" x2="375.06" y2="818.80" stroke="#0080ff" stroke-width="3.0" stroke-linecap="round" />
<line x1="383.78" y1="775.90" x2="383.78" y2="805.90" stroke="#0080ff" stroke-width="3.0" stroke-linecap="round" />
<line x1="392.50" y1="783.00" x2="392.50" y2="822.00" stroke="#0080ff" stroke-width="3.0" stroke-linecap="round" />
<line x1="401.22" y1="790.60" x2="401.22" y2="813.40" stroke="#0080ff" stroke-width="3.0" stroke-linecap="round" />
<line x1="409.94" y1="786.30" x2="409.94" y2="809.10" stroke="#0080ff" stroke-width="3.0" stroke-linecap="round" />
<line x1="418.66" y1="770.60" x2="418.66" y2="805.60" stroke="#0080ff" stroke-width="3.0" stroke-linecap="round" />
<line x1="427.38" y1="776.80" x2="427.38" y2="808.00" stroke="#0080ff" stroke-width="3.0" stroke-linecap="round" />
<line x1="436.10" y1="781.10" x2="436.10" y2="811.90" stroke="#0080ff" stroke-width="3.0" stroke-linecap="round" />
<line x1="183.22" y1="847.30" x2="183.22" y2="883.30" stroke="#000" stroke-width="3.0" stroke-linecap="butt" />
<line x1="191.94" y1="849.30" x2="191.94" y2="896.30" stroke="#000" stroke-width="3.0" stroke-linecap="butt" />
<line x1="200.66" y1="865.30" x2="200.66" y2="899.30" stroke="#000" stroke-width="3.0" stroke-linecap="butt" />
<line x1="209.38" y1="866.10" x2="209.38" y2="901.10" stroke="#000" stroke-width="3.0" stroke-linecap="butt" />
<line x1="218.10" y1="856.10" x2="218.10" y2="898.90" stroke="#000" stroke-width="3.0" stroke-linecap="butt" />
<line x1="226.82" y1="870.90" x2="226.82" y2="904.90" stroke="#000" stroke-width="3.0" stroke-linecap="butt" />
<line x1="235.54" y1="866.50" x2="235.54" y2="902.50" stroke="#000" stroke-width="3.0" stroke-linecap="butt" />
<line x1="244.26" y1="874.00" x2="244.26" y2="898.00" stroke="#000" stroke-width="3.0" stroke-linecap="butt" />
<line x1="252.98" y1="874.00" x2="252.98" y2="898.00" stroke="#000" stroke-width="3.0" stroke-linecap="butt" />
<line x1="261.70" y1="877.20" x2="261.70" y2="904.80" stroke="#000" stroke-width="3.0" stroke-linecap="butt" />
<line x1="270.42" y1="873.50" x2="270.42" y2="896.30" stroke="#000" stroke-width="3.0" stroke-linecap="butt" />
<line x1="279.14" y1="871.90" x2="279.14" y2="897.90" stroke="#000" stroke-width="3.0" stroke-linecap="butt" />
<line x1="287.86" y1="871.40" x2="287.86" y2="899.40" stroke="#000" stroke-width="3.0" stroke-linecap="butt" />
<line x1="296.58" y1="876.00" x2="296.58" y2="902.00" stroke="#000" stroke-width="3.0" stroke-linecap="butt" />
<line x1="305.30" y1="882.10" x2="305.30" y2="904.10" stroke="#000" stroke-width="3.0" stroke-linecap="butt" />
<line x1="314.02" y1="877.70" x2="314.02" y2="903.70" stroke="#000" stroke-width="3.0" stroke-linecap="butt" />
<line x1="322.74" y1="884.40" x2="322.74" y2="910.40" stroke="#000" stroke-width="3.0" stroke-linecap="butt" />
<line x1="331.46" y1="876.70" x2="331.46" y2="903.70" stroke="#000" stroke-width="3.0" stroke-linecap="butt" />
<line x1="340.18" y1="879.30" x2="340.18" y2="904.50" stroke="#000" stroke-width="3.0" stroke-linecap="butt" />
<line x1="348.90" y1="879.30" x2="348.90" y2="904.50" stroke="#000" stroke-width="3.0" stroke-linecap="butt" />
<line x1="357.62" y1="881.60" x2="357.62" y2="903.60" stroke="#000" stroke-width="3.0" stroke-linecap="butt" />
<line x1="366.34" y1="884.70" x2="366.34" y2="908.70" stroke="#000" stroke-width="3.0" stroke-linecap="butt" />
<line x1="375.06" y1="887.60" x2="375.06" y2="909.60" stroke="#000" stroke-width="3.0" stroke-linecap="butt" />
<line x1="383.78" y1="893.90" x2="383.78" y2="913.90" stroke="#000" stroke-width="3.0" stroke-linecap="butt" />
<line x1="392.50" y1="892.70" x2="392.50" y2="912.70" stroke="#000" stroke-width="3.0" stroke-linecap="butt" />
<line x1="401.22" y1="884.00" x2="401.22" y2="906.00" stroke="#000" stroke-width="3.0" stroke-linecap="butt" />
<line x1="409.94" y1="886.40" x2="409.94" y2="908.40" stroke="#000" stroke-width="3.0" stroke-linecap="butt" />
<line x1="418.66" y1="883.60" x2="418.66" y2="908.80" stroke="#000" stroke-width="3.0" stroke-linecap="butt" />
<line x1="427.38" y1="882.00" x2="427.38" y2="908.00" stroke="#000" stroke-width="3.0" stroke-linecap="butt" />
<line x1="436.10" y1="883.70" x2="436.10" y2="909.70" stroke="#000" stroke-width="3.0" stroke-linecap="butt" />
<circle cx="183.22" cy="865.30" r="8.6" fill="#fff" stroke="#000" stroke-width="3.0"/>
<circle cx="191.94" cy="872.80" r="8.6" fill="#fff" stroke="#000" stroke-width="3.0"/>
<circle cx="200.66" cy="882.30" r="8.6" fill="#fff" stroke="#000" stroke-width="3.0"/>
<circle cx="209.38" cy="883.60" r="8.6" fill="#fff" stroke="#000" stroke-width="3.0"/>
<circle cx="218.10" cy="877.50" r="8.6" fill="#fff" stroke="#000" stroke-width="3.0"/>
<circle cx="226.82" cy="887.90" r="8.6" fill="#fff" stroke="#000" stroke-width="3.0"/>
<circle cx="235.54" cy="884.50" r="8.6" fill="#fff" stroke="#000" stroke-width="3.0"/>
<circle cx="244.26" cy="886.00" r="8.6" fill="#fff" stroke="#000" stroke-width="3.0"/>
<circle cx="252.98" cy="886.00" r="8.6" fill="#fff" stroke="#000" stroke-width="3.0"/>
<circle cx="261.70" cy="891.00" r="8.6" fill="#fff" stroke="#000" stroke-width="3.0"/>
<circle cx="270.42" cy="884.90" r="8.6" fill="#fff" stroke="#000" stroke-width="3.0"/>
<circle cx="279.14" cy="884.90" r="8.6" fill="#fff" stroke="#000" stroke-width="3.0"/>
<circle cx="287.86" cy="885.40" r="8.6" fill="#fff" stroke="#000" stroke-width="3.0"/>
<circle cx="296.58" cy="889.00" r="8.6" fill="#fff" stroke="#000" stroke-width="3.0"/>
<circle cx="305.30" cy="893.10" r="8.6" fill="#fff" stroke="#000" stroke-width="3.0"/>
<circle cx="314.02" cy="890.70" r="8.6" fill="#fff" stroke="#000" stroke-width="3.0"/>
<circle cx="322.74" cy="897.40" r="8.6" fill="#fff" stroke="#000" stroke-width="3.0"/>
<circle cx="331.46" cy="890.20" r="8.6" fill="#fff" stroke="#000" stroke-width="3.0"/>
<circle cx="340.18" cy="891.90" r="8.6" fill="#fff" stroke="#000" stroke-width="3.0"/>
<circle cx="348.90" cy="891.90" r="8.6" fill="#fff" stroke="#000" stroke-width="3.0"/>
<circle cx="357.62" cy="892.60" r="8.6" fill="#fff" stroke="#000" stroke-width="3.0"/>
<circle cx="366.34" cy="896.70" r="8.6" fill="#fff" stroke="#000" stroke-width="3.0"/>
<circle cx="375.06" cy="898.60" r="8.6" fill="#fff" stroke="#000" stroke-width="3.0"/>
<circle cx="383.78" cy="903.90" r="8.6" fill="#fff" stroke="#000" stroke-width="3.0"/>
<circle cx="392.50" cy="902.70" r="8.6" fill="#fff" stroke="#000" stroke-width="3.0"/>
<circle cx="401.22" cy="895.00" r="8.6" fill="#fff" stroke="#000" stroke-width="3.0"/>
<circle cx="409.94" cy="897.40" r="8.6" fill="#fff" stroke="#000" stroke-width="3.0"/>
<circle cx="418.66" cy="896.20" r="8.6" fill="#fff" stroke="#000" stroke-width="3.0"/>
<circle cx="427.38" cy="895.00" r="8.6" fill="#fff" stroke="#000" stroke-width="3.0"/>
<circle cx="436.10" cy="896.70" r="8.6" fill="#fff" stroke="#000" stroke-width="3.0"/>
<circle cx="96.02" cy="889.80" r="8.6" fill="#0080ff" stroke="#000" stroke-width="3.0"/>
<circle cx="104.74" cy="889.40" r="8.6" fill="#0080ff" stroke="#000" stroke-width="3.0"/>
<circle cx="113.46" cy="896.40" r="8.6" fill="#0080ff" stroke="#000" stroke-width="3.0"/>
<circle cx="122.18" cy="898.20" r="8.6" fill="#0080ff" stroke="#000" stroke-width="3.0"/>
<circle cx="130.90" cy="891.70" r="8.6" fill="#0080ff" stroke="#000" stroke-width="3.0"/>
<circle cx="139.62" cy="900.10" r="8.6" fill="#0080ff" stroke="#000" stroke-width="3.0"/>
<circle cx="148.34" cy="891.10" r="8.6" fill="#0080ff" stroke="#000" stroke-width="3.0"/>
<circle cx="157.06" cy="895.00" r="8.6" fill="#0080ff" stroke="#000" stroke-width="3.0"/>
<circle cx="165.78" cy="891.70" r="8.6" fill="#0080ff" stroke="#000" stroke-width="3.0"/>
<circle cx="174.50" cy="892.60" r="8.6" fill="#0080ff" stroke="#000" stroke-width="3.0"/>
<circle cx="183.22" cy="838.60" r="8.6" fill="#0080ff" stroke="#000" stroke-width="3.0"/>
<circle cx="191.94" cy="848.40" r="8.6" fill="#0080ff" stroke="#000" stroke-width="3.0"/>
<circle cx="200.66" cy="851.20" r="8.6" fill="#0080ff" stroke="#000" stroke-width="3.0"/>
<circle cx="209.38" cy="844.60" r="8.6" fill="#0080ff" stroke="#000" stroke-width="3.0"/>
<circle cx="218.10" cy="840.90" r="8.6" fill="#0080ff" stroke="#000" stroke-width="3.0"/>
<circle cx="226.82" cy="833.00" r="8.6" fill="#0080ff" stroke="#000" stroke-width="3.0"/>
<circle cx="235.54" cy="816.80" r="8.6" fill="#0080ff" stroke="#000" stroke-width="3.0"/>
<circle cx="244.26" cy="816.00" r="8.6" fill="#0080ff" stroke="#000" stroke-width="3.0"/>
<circle cx="252.98" cy="828.70" r="8.6" fill="#0080ff" stroke="#000" stroke-width="3.0"/>
<circle cx="261.70" cy="805.60" r="8.6" fill="#0080ff" stroke="#000" stroke-width="3.0"/>
<circle cx="270.42" cy="813.30" r="8.6" fill="#0080ff" stroke="#000" stroke-width="3.0"/>
<circle cx="279.14" cy="812.10" r="8.6" fill="#0080ff" stroke="#000" stroke-width="3.0"/>
<circle cx="287.86" cy="797.00" r="8.6" fill="#0080ff" stroke="#000" stroke-width="3.0"/>
<circle cx="296.58" cy="818.80" r="8.6" fill="#0080ff" stroke="#000" stroke-width="3.0"/>
<circle cx="305.30" cy="816.90" r="8.6" fill="#0080ff" stroke="#000" stroke-width="3.0"/>
<circle cx="314.02" cy="819.80" r="8.6" fill="#0080ff" stroke="#000" stroke-width="3.0"/>
<circle cx="322.74" cy="803.70" r="8.6" fill="#0080ff" stroke="#000" stroke-width="3.0"/>
<circle cx="331.46" cy="805.40" r="8.6" fill="#0080ff" stroke="#000" stroke-width="3.0"/>
<circle cx="340.18" cy="804.40" r="8.6" fill="#0080ff" stroke="#000" stroke-width="3.0"/>
<circle cx="348.90" cy="800.60" r="8.6" fill="#0080ff" stroke="#000" stroke-width="3.0"/>
<circle cx="357.62" cy="803.00" r="8.6" fill="#0080ff" stroke="#000" stroke-width="3.0"/>
<circle cx="366.34" cy="799.60" r="8.6" fill="#0080ff" stroke="#000" stroke-width="3.0"/>
<circle cx="375.06" cy="797.20" r="8.6" fill="#0080ff" stroke="#000" stroke-width="3.0"/>
<circle cx="383.78" cy="790.90" r="8.6" fill="#0080ff" stroke="#000" stroke-width="3.0"/>
<circle cx="392.50" cy="802.50" r="8.6" fill="#0080ff" stroke="#000" stroke-width="3.0"/>
<circle cx="401.22" cy="802.00" r="8.6" fill="#0080ff" stroke="#000" stroke-width="3.0"/>
<circle cx="409.94" cy="797.70" r="8.6" fill="#0080ff" stroke="#000" stroke-width="3.0"/>
<circle cx="418.66" cy="788.10" r="8.6" fill="#0080ff" stroke="#000" stroke-width="3.0"/>
<circle cx="427.38" cy="792.40" r="8.6" fill="#0080ff" stroke="#000" stroke-width="3.0"/>
<circle cx="436.10" cy="796.50" r="8.6" fill="#0080ff" stroke="#000" stroke-width="3.0"/>
<line x1="585.20" y1="679.40" x2="585.20" y2="1032.90" stroke="#000" stroke-width="5.6" stroke-linecap="butt" />
<line x1="567.70" y1="1030.10" x2="935.60" y2="1030.10" stroke="#000" stroke-width="5.6" stroke-linecap="butt" />
<line x1="567.70" y1="1030.10" x2="585.20" y2="1030.10" stroke="#000" stroke-width="5.6" stroke-linecap="butt" />
<text transform="translate(546.43,1038.10) scale(0.8838,1)" font-size="33" font-weight="normal" font-style="normal" fill="#111" stroke="#111" stroke-width="0.45" xml:space="preserve">0</text>
<line x1="567.70" y1="895.10" x2="585.20" y2="895.10" stroke="#000" stroke-width="5.6" stroke-linecap="butt" />
<text transform="translate(550.15,903.10) scale(0.5852,1)" font-size="33" font-weight="normal" font-style="normal" fill="#111" stroke="#111" stroke-width="0.45" xml:space="preserve">1</text>
<line x1="567.70" y1="760.10" x2="585.20" y2="760.10" stroke="#000" stroke-width="5.6" stroke-linecap="butt" />
<text transform="translate(546.06,768.10) scale(0.9324,1)" font-size="33" font-weight="normal" font-style="normal" fill="#111" stroke="#111" stroke-width="0.45" xml:space="preserve">2</text>
<line x1="628.60" y1="1030.10" x2="628.60" y2="1046.30" stroke="#000" stroke-width="5.6" stroke-linecap="butt" />
<line x1="716.40" y1="1030.10" x2="716.40" y2="1046.30" stroke="#000" stroke-width="5.6" stroke-linecap="butt" />
<line x1="804.30" y1="1030.10" x2="804.30" y2="1046.30" stroke="#000" stroke-width="5.6" stroke-linecap="butt" />
<line x1="892.20" y1="1030.10" x2="892.20" y2="1046.30" stroke="#000" stroke-width="5.6" stroke-linecap="butt" />
<text transform="translate(529.80,1003.76) rotate(-90) scale(0.8102,1)" font-size="33.5" font-weight="bold" font-style="normal" fill="#000" stroke="#000" stroke-width="0.55" xml:space="preserve">EPSP amplitude (norm)</text>
<text transform="translate(631.60,1066.00) rotate(-45) scale(0.8553,1) translate(-69.96,0)" font-size="33" fill="#111" stroke="#111" stroke-width="0.45">base</text>
<text transform="translate(717.40,1069.00) rotate(-45) scale(0.8682,1) translate(-62.04,0)" font-size="33" fill="#111" stroke="#111" stroke-width="0.45">post</text>
<text transform="translate(807.30,1066.00) rotate(-45) scale(0.8553,1) translate(-69.96,0)" font-size="33" fill="#111" stroke="#111" stroke-width="0.45">base</text>
<text transform="translate(893.20,1069.00) rotate(-45) scale(0.8682,1) translate(-62.04,0)" font-size="33" fill="#111" stroke="#111" stroke-width="0.45">post</text>
<line x1="628.80" y1="886.00" x2="628.80" y2="904.50" stroke="#000" stroke-width="3.0" stroke-linecap="butt" />
<line x1="618.00" y1="886.00" x2="639.70" y2="886.00" stroke="#000" stroke-width="3.0" stroke-linecap="butt" />
<line x1="618.00" y1="904.50" x2="639.70" y2="904.50" stroke="#000" stroke-width="3.0" stroke-linecap="butt" />
<rect x="606.40" y="888.60" width="44.60" height="13.60" fill="#fff" stroke="#000" stroke-width="3.0"/>
<line x1="606.40" y1="895.50" x2="651.00" y2="895.50" stroke="#000" stroke-width="3.0" stroke-linecap="butt" />
<line x1="624.30" y1="895.50" x2="633.30" y2="895.50" stroke="#000" stroke-width="3.0" stroke-linecap="butt" />
<line x1="628.80" y1="891.00" x2="628.80" y2="900.00" stroke="#000" stroke-width="3.0" stroke-linecap="butt" />
<line x1="716.30" y1="858.00" x2="716.30" y2="928.70" stroke="#000" stroke-width="3.0" stroke-linecap="butt" />
<line x1="705.50" y1="858.00" x2="728.00" y2="858.00" stroke="#000" stroke-width="3.0" stroke-linecap="butt" />
<line x1="705.50" y1="928.70" x2="728.00" y2="928.70" stroke="#000" stroke-width="3.0" stroke-linecap="butt" />
<rect x="694.20" y="879.40" width="44.50" height="43.10" fill="#fff" stroke="#000" stroke-width="3.0"/>
<line x1="694.20" y1="896.90" x2="738.70" y2="896.90" stroke="#000" stroke-width="3.0" stroke-linecap="butt" />
<line x1="711.80" y1="898.00" x2="720.80" y2="898.00" stroke="#000" stroke-width="3.0" stroke-linecap="butt" />
<line x1="716.30" y1="893.50" x2="716.30" y2="902.50" stroke="#000" stroke-width="3.0" stroke-linecap="butt" />
<line x1="804.60" y1="882.00" x2="804.60" y2="914.30" stroke="#000" stroke-width="3.0" stroke-linecap="butt" />
<line x1="793.70" y1="882.00" x2="815.50" y2="882.00" stroke="#000" stroke-width="3.0" stroke-linecap="butt" />
<line x1="793.70" y1="914.30" x2="815.50" y2="914.30" stroke="#000" stroke-width="3.0" stroke-linecap="butt" />
<rect x="782.50" y="884.00" width="44.20" height="20.90" fill="#0080ff" stroke="#000" stroke-width="3.0"/>
<line x1="782.50" y1="900.20" x2="826.70" y2="900.20" stroke="#000" stroke-width="3.0" stroke-linecap="butt" />
<line x1="800.10" y1="898.00" x2="809.10" y2="898.00" stroke="#000" stroke-width="3.0" stroke-linecap="butt" />
<line x1="804.60" y1="893.50" x2="804.60" y2="902.50" stroke="#000" stroke-width="3.0" stroke-linecap="butt" />
<line x1="892.30" y1="734.70" x2="892.30" y2="839.10" stroke="#000" stroke-width="3.0" stroke-linecap="butt" />
<line x1="881.30" y1="734.70" x2="903.30" y2="734.70" stroke="#000" stroke-width="3.0" stroke-linecap="butt" />
<line x1="881.30" y1="839.10" x2="903.30" y2="839.10" stroke="#000" stroke-width="3.0" stroke-linecap="butt" />
<rect x="870.10" y="769.50" width="44.00" height="64.10" fill="#0080ff" stroke="#000" stroke-width="3.0"/>
<line x1="870.10" y1="797.00" x2="914.10" y2="797.00" stroke="#000" stroke-width="3.0" stroke-linecap="butt" />
<line x1="887.80" y1="797.00" x2="896.80" y2="797.00" stroke="#000" stroke-width="3.0" stroke-linecap="butt" />
<line x1="892.30" y1="792.50" x2="892.30" y2="801.50" stroke="#000" stroke-width="3.0" stroke-linecap="butt" />
<line x1="716.60" y1="692.20" x2="892.30" y2="692.20" stroke="#000" stroke-width="3.9" stroke-linecap="butt" />
<text transform="translate(785.28,700.56) scale(1.0372,1)" font-size="32" font-weight="bold" fill="#000">***</text>
<line x1="804.20" y1="717.20" x2="892.30" y2="717.20" stroke="#000" stroke-width="3.9" stroke-linecap="butt" />
<text transform="translate(829.38,725.06) scale(1.0372,1)" font-size="32" font-weight="bold" fill="#000">***</text>
<line x1="87.40" y1="1219.00" x2="87.40" y2="1572.80" stroke="#000" stroke-width="5.6" stroke-linecap="butt" />
<line x1="71.00" y1="1570.20" x2="438.90" y2="1570.20" stroke="#000" stroke-width="5.6" stroke-linecap="butt" />
<line x1="71.00" y1="1570.00" x2="87.40" y2="1570.00" stroke="#000" stroke-width="5.6" stroke-linecap="butt" />
<text transform="translate(50.23,1578.00) scale(0.8838,1)" font-size="33" font-weight="normal" font-style="normal" fill="#111" stroke="#111" stroke-width="0.45" xml:space="preserve">0</text>
<line x1="71.00" y1="1445.10" x2="87.40" y2="1445.10" stroke="#000" stroke-width="5.6" stroke-linecap="butt" />
<text transform="translate(50.22,1453.10) scale(0.8931,1)" font-size="33" font-weight="normal" font-style="normal" fill="#111" stroke="#111" stroke-width="0.45" xml:space="preserve">5</text>
<line x1="71.00" y1="1320.20" x2="87.40" y2="1320.20" stroke="#000" stroke-width="5.6" stroke-linecap="butt" />
<text transform="translate(39.41,1328.20) scale(0.7636,1)" font-size="33" font-weight="normal" font-style="normal" fill="#111" stroke="#111" stroke-width="0.45" xml:space="preserve">10</text>
<line x1="104.80" y1="1570.00" x2="104.80" y2="1586.80" stroke="#000" stroke-width="5.6" stroke-linecap="butt" />
<line x1="139.90" y1="1570.00" x2="139.90" y2="1586.80" stroke="#000" stroke-width="5.6" stroke-linecap="butt" />
<text transform="translate(124.11,1618.60) scale(0.8721,1)" font-size="33" font-weight="normal" font-style="normal" fill="#111" stroke="#111" stroke-width="0.45" xml:space="preserve">20</text>
<line x1="175.00" y1="1570.00" x2="175.00" y2="1586.80" stroke="#000" stroke-width="5.6" stroke-linecap="butt" />
<line x1="210.10" y1="1570.00" x2="210.10" y2="1586.80" stroke="#000" stroke-width="5.6" stroke-linecap="butt" />
<text transform="translate(195.19,1618.60) scale(0.8473,1)" font-size="33" font-weight="normal" font-style="normal" fill="#111" stroke="#111" stroke-width="0.45" xml:space="preserve">40</text>
<line x1="245.20" y1="1570.00" x2="245.20" y2="1586.80" stroke="#000" stroke-width="5.6" stroke-linecap="butt" />
<line x1="280.30" y1="1570.00" x2="280.30" y2="1586.80" stroke="#000" stroke-width="5.6" stroke-linecap="butt" />
<text transform="translate(264.51,1618.60) scale(0.8721,1)" font-size="33" font-weight="normal" font-style="normal" fill="#111" stroke="#111" stroke-width="0.45" xml:space="preserve">60</text>
<line x1="315.40" y1="1570.00" x2="315.40" y2="1586.80" stroke="#000" stroke-width="5.6" stroke-linecap="butt" />
<line x1="350.50" y1="1570.00" x2="350.50" y2="1586.80" stroke="#000" stroke-width="5.6" stroke-linecap="butt" />
<text transform="translate(334.86,1618.60) scale(0.8679,1)" font-size="33" font-weight="normal" font-style="normal" fill="#111" stroke="#111" stroke-width="0.45" xml:space="preserve">80</text>
<line x1="385.60" y1="1570.00" x2="385.60" y2="1586.80" stroke="#000" stroke-width="5.6" stroke-linecap="butt" />
<line x1="420.70" y1="1570.00" x2="420.70" y2="1586.80" stroke="#000" stroke-width="5.6" stroke-linecap="butt" />
<text transform="translate(397.97,1618.60) scale(0.8399,1)" font-size="33" font-weight="normal" font-style="normal" fill="#111" stroke="#111" stroke-width="0.45" xml:space="preserve">100</text>
<text transform="translate(122.94,1651.50) scale(0.8198,1)" font-size="33.5" font-weight="bold" font-style="normal" fill="#000" stroke="#000" stroke-width="0.55" xml:space="preserve">stimulation strength</text>
<text transform="translate(122.52,1689.70) scale(0.8236,1)" font-size="33.5" font-weight="bold" font-style="normal" fill="#000" stroke="#000" stroke-width="0.55" xml:space="preserve">(% AP threshold)</text>
<text transform="translate(31.30,1537.06) rotate(-90) scale(0.8100,1)" font-size="33.5" font-weight="bold" font-style="normal" fill="#000" stroke="#000" stroke-width="0.55" xml:space="preserve">EPSP amplitude  (mV)</text>
<line x1="104.80" y1="1545.00" x2="104.80" y2="1557.00" stroke="#000" stroke-width="2.8" stroke-linecap="round" />
<circle cx="104.80" cy="1550.50" r="8.9" fill="#fff" stroke="#000" stroke-width="3.0"/>
<circle cx="104.80" cy="1551.70" r="8.9" fill="#0080ff" stroke="#000" stroke-width="3.0"/>
<line x1="139.90" y1="1504.00" x2="139.90" y2="1543.00" stroke="#000" stroke-width="2.8" stroke-linecap="round" />
<circle cx="139.90" cy="1519.10" r="8.9" fill="#fff" stroke="#000" stroke-width="3.0"/>
<line x1="139.90" y1="1515.50" x2="139.90" y2="1520.00" stroke="#0080ff" stroke-width="2.8" stroke-linecap="butt" />
<circle cx="139.90" cy="1530.40" r="8.9" fill="#0080ff" stroke="#000" stroke-width="3.0"/>
<line x1="175.00" y1="1476.50" x2="175.00" y2="1512.00" stroke="#000" stroke-width="2.8" stroke-linecap="round" />
<circle cx="175.00" cy="1494.80" r="8.9" fill="#fff" stroke="#000" stroke-width="3.0"/>
<circle cx="175.00" cy="1502.80" r="8.9" fill="#0080ff" stroke="#000" stroke-width="3.0"/>
<line x1="210.10" y1="1447.60" x2="210.10" y2="1495.00" stroke="#000" stroke-width="2.8" stroke-linecap="round" />
<circle cx="210.10" cy="1465.70" r="8.9" fill="#fff" stroke="#000" stroke-width="3.0"/>
<circle cx="210.10" cy="1489.80" r="8.9" fill="#0080ff" stroke="#000" stroke-width="3.0"/>
<line x1="245.20" y1="1415.70" x2="245.20" y2="1472.10" stroke="#000" stroke-width="2.8" stroke-linecap="round" />
<circle cx="245.20" cy="1438.20" r="8.9" fill="#fff" stroke="#000" stroke-width="3.0"/>
<line x1="245.20" y1="1443.30" x2="245.20" y2="1448.30" stroke="#0080ff" stroke-width="2.8" stroke-linecap="butt" />
<circle cx="245.20" cy="1457.80" r="8.9" fill="#0080ff" stroke="#000" stroke-width="3.0"/>
<line x1="280.30" y1="1383.80" x2="280.30" y2="1440.80" stroke="#000" stroke-width="2.8" stroke-linecap="round" />
<circle cx="280.30" cy="1406.10" r="8.9" fill="#fff" stroke="#000" stroke-width="3.0"/>
<line x1="280.30" y1="1408.90" x2="280.30" y2="1415.70" stroke="#0080ff" stroke-width="2.8" stroke-linecap="butt" />
<circle cx="280.30" cy="1425.20" r="8.9" fill="#0080ff" stroke="#000" stroke-width="3.0"/>
<line x1="315.40" y1="1349.70" x2="315.40" y2="1415.20" stroke="#000" stroke-width="2.8" stroke-linecap="round" />
<circle cx="315.40" cy="1370.50" r="8.9" fill="#fff" stroke="#000" stroke-width="3.0"/>
<line x1="315.40" y1="1378.60" x2="315.40" y2="1388.10" stroke="#0080ff" stroke-width="2.8" stroke-linecap="butt" />
<circle cx="315.40" cy="1397.40" r="8.9" fill="#0080ff" stroke="#000" stroke-width="3.0"/>
<line x1="350.50" y1="1301.60" x2="350.50" y2="1367.50" stroke="#000" stroke-width="2.8" stroke-linecap="round" />
<circle cx="350.50" cy="1331.70" r="8.9" fill="#fff" stroke="#000" stroke-width="3.0"/>
<line x1="350.50" y1="1335.40" x2="350.50" y2="1343.00" stroke="#0080ff" stroke-width="2.8" stroke-linecap="butt" />
<circle cx="350.50" cy="1351.70" r="8.9" fill="#0080ff" stroke="#000" stroke-width="3.0"/>
<line x1="385.60" y1="1255.70" x2="385.60" y2="1322.90" stroke="#000" stroke-width="2.8" stroke-linecap="round" />
<circle cx="385.60" cy="1289.80" r="8.9" fill="#fff" stroke="#000" stroke-width="3.0"/>
<line x1="385.60" y1="1279.00" x2="385.60" y2="1282.80" stroke="#0080ff" stroke-width="2.8" stroke-linecap="butt" />
<circle cx="385.60" cy="1292.80" r="8.9" fill="#0080ff" stroke="#000" stroke-width="3.0"/>
<line x1="420.70" y1="1217.10" x2="420.70" y2="1293.30" stroke="#000" stroke-width="2.8" stroke-linecap="round" />
<circle cx="420.70" cy="1247.60" r="8.9" fill="#fff" stroke="#000" stroke-width="3.0"/>
<line x1="420.70" y1="1253.90" x2="420.70" y2="1261.40" stroke="#0080ff" stroke-width="2.8" stroke-linecap="butt" />
<line x1="420.70" y1="1280.30" x2="420.70" y2="1288.30" stroke="#0080ff" stroke-width="2.8" stroke-linecap="butt" />
<circle cx="420.70" cy="1271.50" r="8.9" fill="#0080ff" stroke="#000" stroke-width="3.0"/>
<line x1="585.70" y1="1220.50" x2="585.70" y2="1585.10" stroke="#000" stroke-width="5.6" stroke-linecap="butt" />
<line x1="569.70" y1="1569.60" x2="936.30" y2="1569.60" stroke="#000" stroke-width="5.6" stroke-linecap="butt" />
<line x1="569.70" y1="1569.70" x2="585.70" y2="1569.70" stroke="#000" stroke-width="5.6" stroke-linecap="butt" />
<text transform="translate(547.03,1577.70) scale(0.8838,1)" font-size="33" font-weight="normal" font-style="normal" fill="#111" stroke="#111" stroke-width="0.45" xml:space="preserve">0</text>
<line x1="569.70" y1="1482.45" x2="585.70" y2="1482.45" stroke="#000" stroke-width="5.6" stroke-linecap="butt" />
<text transform="translate(550.65,1490.45) scale(0.5852,1)" font-size="33" font-weight="normal" font-style="normal" fill="#111" stroke="#111" stroke-width="0.45" xml:space="preserve">1</text>
<line x1="569.70" y1="1395.20" x2="585.70" y2="1395.20" stroke="#000" stroke-width="5.6" stroke-linecap="butt" />
<text transform="translate(546.66,1403.20) scale(0.9324,1)" font-size="33" font-weight="normal" font-style="normal" fill="#111" stroke="#111" stroke-width="0.45" xml:space="preserve">2</text>
<line x1="569.70" y1="1307.95" x2="585.70" y2="1307.95" stroke="#000" stroke-width="5.6" stroke-linecap="butt" />
<text transform="translate(547.02,1315.95) scale(0.8931,1)" font-size="33" font-weight="normal" font-style="normal" fill="#111" stroke="#111" stroke-width="0.45" xml:space="preserve">3</text>
<line x1="569.70" y1="1220.70" x2="585.70" y2="1220.70" stroke="#000" stroke-width="5.6" stroke-linecap="butt" />
<text transform="translate(547.65,1228.70) scale(0.8401,1)" font-size="33" font-weight="normal" font-style="normal" fill="#111" stroke="#111" stroke-width="0.45" xml:space="preserve">4</text>
<line x1="585.80" y1="1569.60" x2="585.80" y2="1585.10" stroke="#000" stroke-width="5.6" stroke-linecap="butt" />
<text transform="translate(566.24,1620.80) scale(0.8443,1)" font-size="33" font-weight="normal" font-style="normal" fill="#111" stroke="#111" stroke-width="0.45" xml:space="preserve">0.5</text>
<line x1="655.35" y1="1569.60" x2="655.35" y2="1585.10" stroke="#000" stroke-width="5.6" stroke-linecap="butt" />
<text transform="translate(635.79,1620.80) scale(0.8443,1)" font-size="33" font-weight="normal" font-style="normal" fill="#111" stroke="#111" stroke-width="0.45" xml:space="preserve">0.6</text>
<line x1="724.90" y1="1569.60" x2="724.90" y2="1585.10" stroke="#000" stroke-width="5.6" stroke-linecap="butt" />
<text transform="translate(705.33,1620.80) scale(0.8508,1)" font-size="33" font-weight="normal" font-style="normal" fill="#111" stroke="#111" stroke-width="0.45" xml:space="preserve">0.7</text>
<line x1="794.45" y1="1569.60" x2="794.45" y2="1585.10" stroke="#000" stroke-width="5.6" stroke-linecap="butt" />
<text transform="translate(774.89,1620.80) scale(0.8443,1)" font-size="33" font-weight="normal" font-style="normal" fill="#111" stroke="#111" stroke-width="0.45" xml:space="preserve">0.8</text>
<line x1="864.00" y1="1569.60" x2="864.00" y2="1585.10" stroke="#000" stroke-width="5.6" stroke-linecap="butt" />
<text transform="translate(844.43,1620.80) scale(0.8476,1)" font-size="33" font-weight="normal" font-style="normal" fill="#111" stroke="#111" stroke-width="0.45" xml:space="preserve">0.9</text>
<line x1="933.55" y1="1569.60" x2="933.55" y2="1585.10" stroke="#000" stroke-width="5.6" stroke-linecap="butt" />
<text transform="translate(914.92,1620.80) scale(0.7812,1)" font-size="33" font-weight="normal" font-style="normal" fill="#111" stroke="#111" stroke-width="0.45" xml:space="preserve">1.0</text>
<text transform="translate(674.62,1649.20) scale(0.8191,1)" font-size="33.5" font-weight="bold" font-style="normal" fill="#000" stroke="#000" stroke-width="0.55" xml:space="preserve">performance</text>
<text transform="translate(528.30,1600.32) rotate(-90) scale(0.7911,1)" font-size="33.5" font-weight="bold" font-style="normal" fill="#000" stroke="#000" stroke-width="0.55" xml:space="preserve">PS or EPSP</text>
<text transform="translate(536.80,1452.42) rotate(-90) scale(0.9334,1)" font-size="18.5" font-weight="bold" font-style="normal" fill="#000" stroke="#000" stroke-width="0.3" xml:space="preserve">LTP</text>
<text transform="translate(528.3,1413.9) rotate(-90) skewX(-11) scale(0.82,1)" font-size="33.5" font-weight="bold" fill="#111">/</text>
<text transform="translate(528.30,1397.54) rotate(-90) scale(0.7982,1)" font-size="33.5" font-weight="bold" font-style="normal" fill="#000" stroke="#000" stroke-width="0.55" xml:space="preserve">PS or EPSP</text>
<text transform="translate(536.80,1248.18) rotate(-90) scale(0.8142,1)" font-size="18.5" font-weight="bold" font-style="normal" fill="#000" stroke="#000" stroke-width="0.3" xml:space="preserve">pre-LTP</text>
<line x1="642.80" y1="1371.80" x2="869.60" y2="1395.80" stroke="#000" stroke-width="2.3" stroke-linecap="butt" />
<circle cx="641.40" cy="1324.10" r="8.6" fill="#0080ff" stroke="#000" stroke-width="2.9"/>
<circle cx="655.10" cy="1396.40" r="8.6" fill="#0080ff" stroke="#000" stroke-width="2.9"/>
<circle cx="766.30" cy="1437.40" r="8.6" fill="#0080ff" stroke="#000" stroke-width="2.9"/>
<circle cx="759.80" cy="1424.50" r="8.6" fill="#0080ff" stroke="#000" stroke-width="2.9"/>
<circle cx="773.00" cy="1404.00" r="8.6" fill="#0080ff" stroke="#000" stroke-width="2.9"/>
<circle cx="793.80" cy="1375.90" r="8.6" fill="#0080ff" stroke="#000" stroke-width="2.9"/>
<circle cx="815.40" cy="1366.50" r="8.6" fill="#0080ff" stroke="#000" stroke-width="2.9"/>
<circle cx="808.10" cy="1377.40" r="8.6" fill="#0080ff" stroke="#000" stroke-width="2.9"/>
<circle cx="821.90" cy="1399.60" r="8.6" fill="#0080ff" stroke="#000" stroke-width="2.9"/>
<circle cx="835.90" cy="1294.00" r="8.6" fill="#0080ff" stroke="#000" stroke-width="2.9"/>
<circle cx="870.70" cy="1446.10" r="8.6" fill="#0080ff" stroke="#000" stroke-width="2.9"/>
</svg>
</body></html>
